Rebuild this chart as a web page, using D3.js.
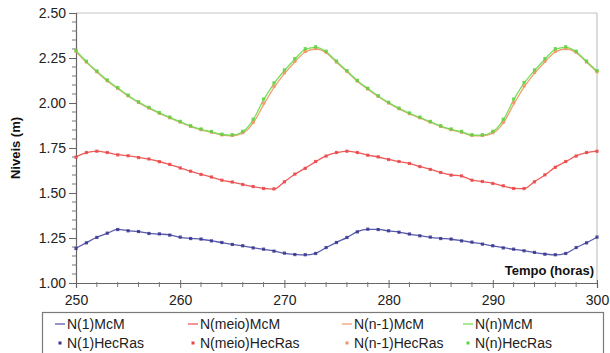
<!DOCTYPE html>
<html>
<head>
<meta charset="utf-8">
<script src="https://cdn.jsdelivr.net/npm/d3@7"></script>
<style>
  html, body { margin: 0; padding: 0; background: #fff; }
  svg { display: block; font-family: "Liberation Sans", Arial, sans-serif; }
</style>
</head>
<body>
<svg id="chart" width="610" height="353"></svg>
<script>
// ---- DATA ----
const hours = d3.range(250, 301);  // 250..300 hourly

const n1McM = [1.193,1.224,1.254,1.276,1.298,1.291,1.285,1.276,1.272,1.267,
               1.254,1.248,1.243,1.235,1.224,1.215,1.206,1.196,1.187,1.178,
               1.165,1.159,1.156,1.165,1.196,1.226,1.252,1.285,1.298,1.298,
               1.289,1.283,1.271,1.263,1.254,1.248,1.243,1.235,1.226,1.217,
               1.206,1.196,1.187,1.180,1.169,1.161,1.156,1.165,1.196,1.224,1.254];
const n1Hec = [1.192,1.223,1.253,1.277,1.297,1.290,1.286,1.275,1.273,1.266,
               1.255,1.247,1.244,1.234,1.225,1.214,1.207,1.195,1.188,1.177,
               1.166,1.158,1.157,1.164,1.197,1.225,1.253,1.284,1.299,1.297,
               1.290,1.282,1.272,1.262,1.255,1.247,1.244,1.234,1.227,1.216,
               1.207,1.195,1.188,1.179,1.170,1.160,1.157,1.164,1.197,1.223,1.255];

const meioMcM = [1.700,1.724,1.733,1.724,1.713,1.706,1.698,1.688,1.675,1.658,
                 1.640,1.620,1.604,1.588,1.572,1.560,1.548,1.535,1.526,1.522,
                 1.563,1.604,1.638,1.674,1.706,1.724,1.733,1.724,1.711,1.700,
                 1.687,1.674,1.665,1.646,1.632,1.613,1.600,1.594,1.572,1.563,
                 1.554,1.539,1.526,1.524,1.563,1.600,1.644,1.674,1.706,1.724,1.733];
const meioHec = [1.699,1.725,1.732,1.725,1.712,1.707,1.697,1.689,1.674,1.659,
                 1.639,1.621,1.603,1.589,1.571,1.561,1.547,1.536,1.525,1.523,
                 1.562,1.605,1.637,1.675,1.705,1.725,1.732,1.725,1.710,1.701,
                 1.686,1.675,1.664,1.647,1.631,1.614,1.599,1.595,1.571,1.564,
                 1.553,1.540,1.525,1.525,1.562,1.601,1.643,1.675,1.705,1.725,1.732];

const nm1McM = [2.285,2.226,2.172,2.122,2.080,2.039,2.002,1.971,1.942,1.917,
                1.893,1.869,1.851,1.837,1.822,1.818,1.832,1.888,1.990,2.085,
                2.163,2.228,2.283,2.300,2.280,2.226,2.174,2.121,2.077,2.036,
                1.999,1.967,1.940,1.917,1.893,1.869,1.851,1.837,1.819,1.818,
                1.832,1.888,1.992,2.088,2.165,2.228,2.283,2.300,2.280,2.226,2.172];
const nm1Hec = [2.287,2.228,2.174,2.124,2.082,2.040,2.003,1.972,1.943,1.918,
                1.894,1.870,1.852,1.838,1.823,1.820,1.835,1.893,2.000,2.093,
                2.168,2.232,2.287,2.302,2.282,2.228,2.176,2.122,2.078,2.037,
                2.000,1.968,1.941,1.918,1.894,1.870,1.852,1.838,1.820,1.820,
                1.835,1.893,2.002,2.095,2.170,2.232,2.287,2.302,2.282,2.228,2.174];

const nMcM  = [2.290,2.230,2.176,2.126,2.084,2.042,2.005,1.974,1.945,1.920,
               1.896,1.872,1.854,1.840,1.825,1.822,1.840,1.906,2.017,2.108,
               2.180,2.243,2.298,2.309,2.285,2.230,2.178,2.124,2.080,2.039,
               2.002,1.970,1.943,1.920,1.896,1.872,1.854,1.840,1.822,1.822,
               1.840,1.906,2.017,2.110,2.180,2.243,2.298,2.309,2.285,2.230,2.178];
const nHec  = [2.292,2.232,2.178,2.128,2.086,2.044,2.007,1.976,1.947,1.922,
               1.898,1.874,1.856,1.842,1.827,1.824,1.843,1.910,2.022,2.112,
               2.184,2.247,2.302,2.313,2.288,2.233,2.180,2.126,2.082,2.041,
               2.004,1.972,1.945,1.922,1.898,1.874,1.856,1.842,1.824,1.824,
               1.843,1.910,2.022,2.114,2.184,2.247,2.302,2.313,2.288,2.233,2.180];

const xTicks = [250, 260, 270, 280, 290, 300];
const yTicks = [1.00, 1.25, 1.50, 1.75, 2.00, 2.25, 2.50];

const seriesLines = [
  { name: "N(1)McM",      values: n1McM,   color: "#5a5aae" },
  { name: "N(meio)McM",   values: meioMcM, color: "#f05a5a" },
  { name: "N(n-1)McM",    values: nm1McM,  color: "#f0a070" },
  { name: "N(n)McM",      values: nMcM,    color: "#74e05a" }
];
const seriesPoints = [
  { name: "N(1)HecRas",    values: n1Hec,   color: "#34348c" },
  { name: "N(meio)HecRas", values: meioHec, color: "#e84646" },
  { name: "N(n-1)HecRas",  values: nm1Hec,  color: "#ee9464" },
  { name: "N(n)HecRas",    values: nHec,    color: "#5ad442" }
];

// ---- LAYOUT ----
const svg = d3.select("#chart");
const pL = 76, pR = 597, pT = 13, pB = 283;

const x = d3.scaleLinear().domain([250, 300]).range([pL, pR]);
const y = d3.scaleLinear().domain([1.0, 2.5]).range([pB, pT]);

// frame (top and right)
svg.append("line").attr("x1", pL).attr("x2", pR).attr("y1", pT).attr("y2", pT)
  .attr("stroke", "#c4c4c4").attr("stroke-width", 1.2);
svg.append("line").attr("x1", pR).attr("x2", pR).attr("y1", pT).attr("y2", pB)
  .attr("stroke", "#c4c4c4").attr("stroke-width", 1.2);

// y axis
const yAxis = d3.axisLeft(y).tickValues(yTicks).tickFormat(d3.format(".2f")).tickSize(7).tickPadding(3);
const gy = svg.append("g").attr("transform", `translate(${pL},0)`).call(yAxis);
gy.select(".domain").attr("stroke", "#666").attr("stroke-width", 1.2);
gy.selectAll(".tick line").attr("stroke", "#666").attr("x2", -7).attr("x1", 1);
gy.selectAll(".tick text").attr("font-size", 14).attr("fill", "#222")
  .attr("font-family", "Liberation Sans, Arial, sans-serif");
// y minor ticks
const yMinor = d3.range(1.0, 2.5001, 0.05).filter(v => yTicks.every(t => Math.abs(t - v) > 1e-6));
svg.append("g").selectAll("line").data(yMinor).join("line")
  .attr("x1", pL - 4).attr("x2", pL + 1)
  .attr("y1", d => y(d)).attr("y2", d => y(d))
  .attr("stroke", "#777").attr("stroke-width", 1);

// x axis
const xAxis = d3.axisBottom(x).tickValues(xTicks).tickFormat(d3.format("d")).tickSize(5).tickPadding(7);
const gx = svg.append("g").attr("transform", `translate(0,${pB})`).call(xAxis);
gx.select(".domain").attr("stroke", "#666").attr("stroke-width", 1.2);
gx.selectAll(".tick line").attr("stroke", "#666").attr("y1", -3).attr("y2", 5);
gx.selectAll(".tick text").attr("font-size", 14).attr("fill", "#222")
  .attr("font-family", "Liberation Sans, Arial, sans-serif");
const xMinor = d3.range(250, 300.001, 2).filter(v => xTicks.indexOf(v) < 0);
svg.append("g").selectAll("line").data(xMinor).join("line")
  .attr("x1", d => x(d)).attr("x2", d => x(d))
  .attr("y1", pB - 1).attr("y2", pB + 4)
  .attr("stroke", "#777").attr("stroke-width", 1);

// axis titles
svg.append("text")
  .attr("transform", `translate(20,${(pT + pB) / 2}) rotate(-90)`)
  .attr("text-anchor", "middle").attr("font-size", 13).attr("font-weight", "bold")
  .attr("fill", "#111").text("Niveis (m)");
svg.append("text")
  .attr("x", pR - 3).attr("y", 275).attr("text-anchor", "end")
  .attr("font-size", 13).attr("font-weight", "bold").attr("fill", "#111")
  .text("Tempo (horas)");

// lines
const line = d3.line().x((d, i) => x(hours[i])).y(d => y(d)).curve(d3.curveMonotoneX);
seriesLines.forEach(s => {
  svg.append("path").datum(s.values).attr("d", line)
    .attr("fill", "none").attr("stroke", s.color).attr("stroke-width", 1.3);
});

// points
seriesPoints.forEach(s => {
  svg.append("g").selectAll("rect").data(s.values).join("rect")
    .attr("x", (d, i) => x(hours[i]) - 1.6).attr("y", d => y(d) - 1.6)
    .attr("width", 3.2).attr("height", 3.2)
    .attr("fill", s.color).attr("opacity", 0.85);
});

// legend
const lgX = 42, lgY = 312, lgW = 561, lgH = 42;
svg.append("rect").attr("x", lgX + 0.5).attr("y", lgY + 0.5)
  .attr("width", lgW).attr("height", lgH)
  .attr("fill", "#fff").attr("stroke", "#7a7a7a").attr("stroke-width", 1.2);
const colX = [55, 188, 342, 463];
seriesLines.forEach((s, i) => {
  const cx = colX[i], cy = 324;
  svg.append("line").attr("x1", cx).attr("x2", cx + 10).attr("y1", cy).attr("y2", cy)
    .attr("stroke", s.color).attr("stroke-width", 1.3);
  svg.append("text").attr("x", cx + 12).attr("y", cy + 5)
    .attr("font-size", 14).attr("fill", "#222").text(s.name);
});
seriesPoints.forEach((s, i) => {
  const cx = colX[i], cy = 343;
  svg.append("rect").attr("x", cx + 5 - 1.5).attr("y", cy - 1.5)
    .attr("width", 3).attr("height", 3).attr("fill", s.color);
  svg.append("text").attr("x", cx + 12).attr("y", cy + 5)
    .attr("font-size", 14).attr("fill", "#222").text(s.name);
});
</script>
</body>
</html>
